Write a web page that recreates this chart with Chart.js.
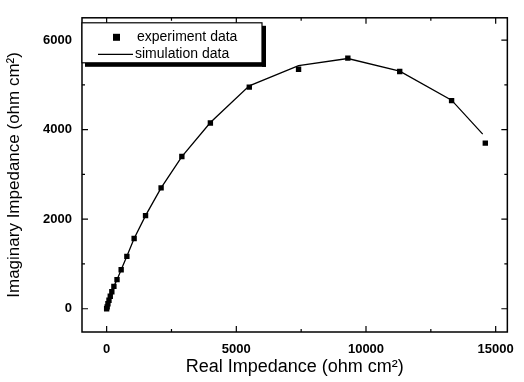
<!DOCTYPE html>
<html>
<head>
<meta charset="utf-8">
<script src="https://cdn.jsdelivr.net/npm/chart.js@4/dist/chart.umd.min.js"></script>
<style>
  html, body { margin: 0; padding: 0; background: #fff; }
  #wrap { width: 524px; height: 382px; }
</style>
</head>
<body>
<div id="wrap"><canvas id="myChart"></canvas></div>
<script>
// measured impedance points
var expReal = [0, 20, 50, 90, 140, 200, 280, 400, 560, 780, 1060, 1500, 2100, 2900, 4000, 5500, 7400, 9300, 11300, 13300, 14600];
var expImag = [0, 40, 110, 190, 280, 380, 500, 650, 870, 1170, 1570, 2080, 2700, 3400, 4150, 4950, 5350, 5600, 5300, 4650, 3700];
// fitted curve
var simReal = [0, 20, 50, 90, 140, 200, 280, 400, 560, 780, 1060, 1500, 2100, 2900, 4000, 5500, 7400, 9300, 11300, 13300, 14500];
var simImag = [0, 40, 110, 190, 280, 380, 500, 650, 870, 1170, 1570, 2080, 2700, 3400, 4160, 4980, 5430, 5590, 5310, 4660, 3900];

var xTicks = [0, 5000, 10000, 15000];
var yTicks = [0, 2000, 4000, 6000];
var xMinor = [2500, 7500, 12500];
var yMinor = [1000, 3000, 5000];

var legendLabels = ['experiment data', 'simulation data'];
var FONT = '"Liberation Sans", Arial, sans-serif';

function pts(xs, ys) {
  var out = [];
  for (var i = 0; i < xs.length; i++) out.push({x: xs[i], y: ys[i]});
  return out;
}

// inward ticks on all four sides, plus the framed legend with its drop shadow
var frameTicks = {
  id: 'frameTicks',
  afterDraw: function(chart) {
    var c = chart.ctx, a = chart.chartArea;
    var xs = chart.scales.x, ys = chart.scales.y;
    c.save();
    c.strokeStyle = '#000';
    c.lineWidth = 1.5;
    c.strokeRect(a.left, a.top, a.right - a.left, a.bottom - a.top);
    c.lineWidth = 1.2;
    c.beginPath();
    xTicks.concat(xMinor).forEach(function(v) {
      var p = xs.getPixelForValue(v), len = xTicks.indexOf(v) >= 0 ? 6 : 3;
      c.moveTo(p, a.bottom); c.lineTo(p, a.bottom - len);
      c.moveTo(p, a.top); c.lineTo(p, a.top + len);
    });
    yTicks.concat(yMinor).forEach(function(v) {
      var p = ys.getPixelForValue(v), len = yTicks.indexOf(v) >= 0 ? 6 : 3;
      c.moveTo(a.left, p); c.lineTo(a.left + len, p);
      c.moveTo(a.right, p); c.lineTo(a.right - len, p);
    });
    c.stroke();

    // legend
    var lx = a.left, ly = a.top + 5, lw = 180, lh = 40;
    c.fillStyle = '#000';
    c.fillRect(lx + lw, ly + 3, 4, lh + 1);
    c.fillRect(lx + 3, ly + lh, lw + 1, 4);
    c.fillStyle = '#fff';
    c.fillRect(lx, ly, lw, lh);
    c.lineWidth = 1.2;
    c.strokeRect(lx, ly, lw, lh);
    c.fillStyle = '#000';
    c.fillRect(lx + 31, ly + 11, 7, 7);
    c.beginPath();
    c.moveTo(lx + 16, ly + 31.5); c.lineTo(lx + 51, ly + 31.5);
    c.stroke();
    c.font = '14px ' + FONT;
    c.textBaseline = 'middle';
    c.fillText(legendLabels[0], lx + 55, ly + 14);
    c.fillText(legendLabels[1], lx + 53, ly + 31);
    c.restore();
  }
};

var ctx = document.getElementById('myChart');
var myChart = new Chart(ctx, {
  type: 'scatter',
  data: {
    datasets: [{
      label: legendLabels[1],
      data: pts(simReal, simImag),
      showLine: true,
      borderColor: '#000',
      borderWidth: 1.3,
      pointRadius: 0,
      tension: 0
    }, {
      label: legendLabels[0],
      data: pts(expReal, expImag),
      showLine: false,
      pointStyle: 'rect',
      pointRadius: 3.8,
      backgroundColor: '#000',
      borderColor: '#000',
      borderWidth: 0
    }]
  },
  options: {
    responsive: true,
    maintainAspectRatio: false,
    animation: false,
    layout: { padding: { left: 0, right: 9, top: 10, bottom: 0 } },
    plugins: { legend: { display: false }, tooltip: { enabled: false } },
    scales: {
      x: {
        type: 'linear',
        min: -950, max: 15450,
        afterFit: function(s) { s.height = 50; },
        afterBuildTicks: function(s) { s.ticks = xTicks.map(function(v) { return {value: v}; }); },
        grid: { display: false, drawTicks: false },
        border: { display: false },
        ticks: {
          color: '#000', padding: 10,
          font: { family: FONT, size: 13, weight: 'bold' },
          maxRotation: 0,
          callback: function(v) { return String(v); }
        },
        title: {
          display: true, text: 'Real Impedance (ohm cm²)', color: '#000',
          font: { family: FONT, size: 18 },
          padding: { top: 2 }
        }
      },
      y: {
        type: 'linear',
        min: -520, max: 6500,
        afterFit: function(s) { s.width = 82; },
        afterBuildTicks: function(s) { s.ticks = yTicks.map(function(v) { return {value: v}; }); },
        grid: { display: false, drawTicks: false },
        border: { display: false },
        ticks: {
          color: '#000', padding: 10,
          font: { family: FONT, size: 13, weight: 'bold' },
          callback: function(v) { return String(v); }
        },
        title: {
          display: true, text: 'Imaginary Impedance (ohm cm²)', color: '#000',
          font: { family: FONT, size: 17 },
          padding: { bottom: 2 }
        }
      }
    }
  },
  plugins: [frameTicks]
});
</script>
</body>
</html>
